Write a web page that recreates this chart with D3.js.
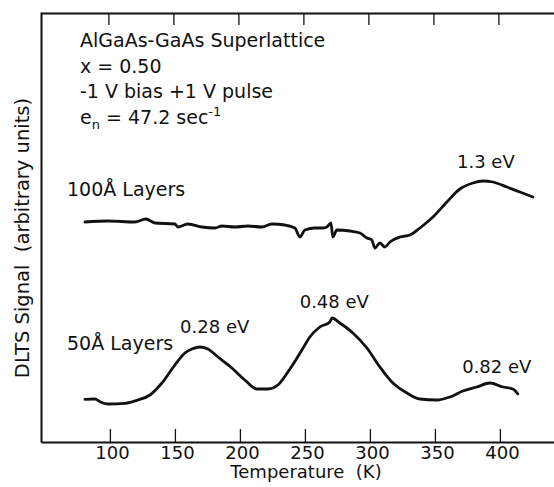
<!DOCTYPE html>
<html>
<head>
<meta charset="utf-8">
<script src="https://cdn.jsdelivr.net/npm/d3@7"></script>
<style>
  html, body { margin: 0; padding: 0; background: #fff; }
  svg { display: block; }
  text { font-family: "DejaVu Sans", sans-serif; fill: #111; }
</style>
</head>
<body>
<svg id="chart" width="554" height="487"></svg>
<script>
// ---- data ----
const xTicks = [100, 150, 200, 250, 300, 350, 400];

// 100 Å layers
const temps100 = [80.8, 98.5, 119.2, 127.7, 134.6, 150, 152.3, 160, 170.8, 180.8, 186.2, 196.2, 206.2, 216.9,
  224.6, 234.6, 242.3, 246.2, 250, 257.7, 263.8, 266.9, 270, 271.5, 274.6, 284.6, 292.3, 297.7, 301.5,
  303.8, 307.7, 311.5, 315.4, 323.1, 330.8, 338.5, 348.5, 359.2, 369.2, 379.2, 386.9, 394.6, 405.4, 415.4, 425.4];
const signal100 = [220, 221, 220, 223, 219, 218, 215, 218, 215, 214, 216, 215, 216, 215,
  218, 217, 214, 205, 212, 214, 214, 215, 219, 205, 212, 211, 209, 204, 202,
  194, 199, 195, 200, 205, 207, 214, 225, 240, 253, 259, 261, 260, 255, 250, 245];

// 50 Å layers
const temps50 = [80.8, 88.5, 92.3, 98.5, 111.5, 121.5, 130.8, 140, 150, 157.7, 163.1, 169.2, 175.4, 183.1,
  193.8, 203.8, 213.1, 221.5, 229.2, 236.9, 247.7, 253.8, 261.5, 269.2, 270.8, 276.9, 286.9, 297.7,
  307.7, 317.7, 328.5, 338.5, 351.5, 361.5, 371.5, 382.3, 392.3, 402.3, 410, 413.8];
const signal50 = [42.7, 43, 40.3, 38, 38.7, 42, 47, 59, 77, 89, 93, 95, 93, 85,
  74, 62, 53, 53, 57, 70, 92, 105, 115, 120, 124, 119, 109, 94,
  75, 59, 49, 43, 42, 45, 51, 55, 59, 55, 53, 48];

// peak labels
const peakLabels = ["1.3 eV", "0.28 eV", "0.48 eV", "0.82 eV"];
const peakLabelT = [367, 154, 246, 371];
const peakLabelS = [274, 109, 134, 69];

const infoLines = ["AlGaAs-GaAs Superlattice", "x = 0.50", "-1 V bias +1 V pulse"];

// ---- drawing ----
const svg = d3.select("#chart");
const x = d3.scaleLinear().domain([47, 442]).range([41, 554.5]);
const y = d3.scaleLinear().domain([0, 430]).range([442, 12]);

// bottom axis (ticks inward)
const gB = svg.append("g").attr("transform", `translate(0,${y(0)})`)
  .call(d3.axisBottom(x).tickValues(xTicks).tickSizeInner(-13).tickSizeOuter(0).tickPadding(4));
gB.select(".domain").attr("stroke", "#111").attr("stroke-width", 2);
gB.selectAll(".tick line").attr("stroke", "#111").attr("stroke-width", 1.3);
gB.selectAll(".tick text").attr("font-size", 18).attr("font-family", "DejaVu Sans").attr("fill", "#111").attr("dx", 2);

// top axis (ticks inward, no labels)
const gT = svg.append("g").attr("transform", `translate(0,${y(430) + 1})`)
  .call(d3.axisTop(x).tickValues(xTicks).tickSizeInner(-12).tickSizeOuter(0).tickFormat(""));
gT.select(".domain").attr("stroke", "#111").attr("stroke-width", 2);
gT.selectAll(".tick line").attr("stroke", "#111").attr("stroke-width", 1.3).attr("transform", "translate(-1.5,0)");

// left axis
const gL = svg.append("g").attr("transform", `translate(${x(47)},0)`)
  .call(d3.axisLeft(y).tickValues([]).tickSizeOuter(0));
gL.select(".domain").attr("stroke", "#111").attr("stroke-width", 2);

// axis titles
svg.append("text").attr("x", 306).attr("y", 478).attr("text-anchor", "middle")
  .attr("font-size", 18).style("white-space", "pre").text("Temperature  (K)");
svg.append("text").attr("transform", "translate(29,238) rotate(-90)").attr("text-anchor", "middle")
  .attr("font-size", 19.5).style("white-space", "pre").text("DLTS Signal  (arbitrary units)");

// curves
const line = d3.line().x(d => x(d[0])).y(d => y(d[1])).curve(d3.curveMonotoneX);
svg.append("path").datum(temps100.map((t, i) => [t, signal100[i]]))
  .attr("d", line).attr("fill", "none").attr("stroke", "#111").attr("stroke-width", 2.8)
  .attr("stroke-linejoin", "round").attr("stroke-linecap", "round");
svg.append("path").datum(temps50.map((t, i) => [t, signal50[i]]))
  .attr("d", line).attr("fill", "none").attr("stroke", "#111").attr("stroke-width", 2.8)
  .attr("stroke-linejoin", "round").attr("stroke-linecap", "round");

// info text
infoLines.forEach((s, i) => {
  svg.append("text").attr("x", 80).attr("y", 47 + i * 25.7).attr("font-size", 19).text(s);
});
const en = svg.append("text").attr("x", 80).attr("y", 124).attr("font-size", 19);
en.append("tspan").text("e");
en.append("tspan").attr("font-size", 13).attr("dy", 5).text("n");
en.append("tspan").attr("dy", -5).text(" = 47.2 sec");
en.append("tspan").attr("font-size", 13).attr("dy", -8).text("-1");

// series labels
svg.append("text").attr("x", 67).attr("y", 196).attr("font-size", 19).text("100Å Layers");
svg.append("text").attr("x", 67).attr("y", 350).attr("font-size", 19).text("50Å Layers");

// peak labels
peakLabels.forEach((s, i) => {
  svg.append("text").attr("x", x(peakLabelT[i])).attr("y", y(peakLabelS[i]))
    .attr("font-size", 18).text(s);
});
</script>
</body>
</html>
